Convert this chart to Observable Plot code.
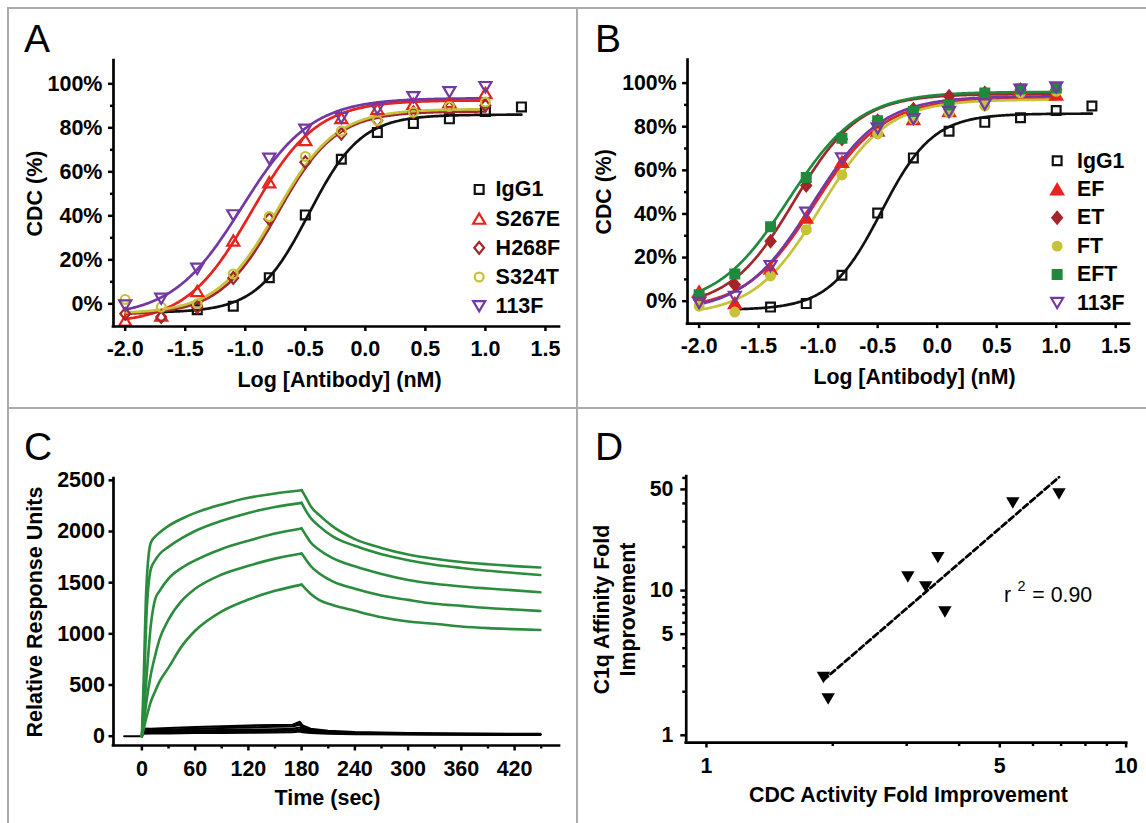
<!DOCTYPE html>
<html><head><meta charset="utf-8">
<script src="https://cdn.jsdelivr.net/npm/d3@7"></script>
<script src="https://cdn.jsdelivr.net/npm/@observablehq/plot@0.6"></script>
<style>
html,body{margin:0;padding:0;background:#fff;overflow:hidden;}
#fig{position:relative;width:1146px;height:823px;font-family:'Liberation Sans',Arial,Helvetica,sans-serif;overflow:hidden;}
.panel{position:absolute;}
.plabel{position:absolute;font-size:39px;font-weight:normal;line-height:39px;color:#000;}
.ln{position:absolute;background:#ababab;}
</style></head><body><div id="fig"></div><script>
// ---------------- Panel A / B data (CDC %, vs log [antibody] nM) ----------------
const logConc = [-2.0, -1.7, -1.4, -1.1, -0.8, -0.5, -0.2, 0.1, 0.4, 0.7, 1.0];
const igg1LogConc = [-1.4, -1.1, -0.8, -0.5, -0.2, 0.1, 0.4, 0.7, 1.0, 1.3];
const cdcIgG1 = [-2.7, -1.1, 11.9, 40.4, 65.7, 77.9, 82.0, 84.1, 87.4, 89.5];

const cdcS267E = [-7.6, -5.3, 5.8, 28.8, 55.3, 74.5, 84.5, 88.6, 90.9, 91.7, 95.8];
const cdcH268F = [-4.5, -6.0, -1.5, 11.8, 38.6, 64.4, 77.3, 83.3, 87.1, 89.4, 90.2];
const cdcS324T = [2.0, -1.5, 0.0, 13.6, 39.7, 67.0, 78.5, 83.3, 87.1, 89.7, 91.7];
const cdc113F_A = [-0.8, 2.3, 15.9, 40.2, 65.9, 79.1, 84.5, 88.6, 93.9, 96.2, 98.5];

const cdcEF = [4.5, -0.8, 15.0, 38.3, 63.9, 78.2, 83.5, 87.2, 95.5, 97.0, 94.7];
const cdcET = [0.8, 7.5, 27.5, 53.0, 74.4, 82.7, 88.0, 94.0, 95.5, 97.0, 97.0];
const cdcFT = [-2.3, -5.0, 11.6, 32.8, 57.9, 76.7, 83.5, 86.5, 89.5, 95.5, 96.2];
const cdcEFT = [3.0, 12.5, 34.1, 56.7, 74.7, 82.7, 87.0, 90.0, 95.5, 97.3, 97.7];
const cdc113F_B = [-0.8, 2.0, 16.1, 40.6, 65.4, 79.2, 83.5, 86.8, 90.2, 97.0, 98.0];

// fitted 4-parameter logistic curves, parameters read from the drawn fits
const seriesA = ["IgG1", "S267E", "H268F", "S324T", "113F"];
const fitBottomA = [-4, -9, -5, -4.5, -6];
const fitTopA = [86, 92.5, 87.5, 88.5, 93.5];
const fitLogEC50A = [-0.47, -0.95, -0.73, -0.74, -1.03];
const fitHillA = [2.0, 1.6, 1.8, 1.75, 1.5];

const seriesB = ["IgG1", "EF", "ET", "FT", "EFT", "113F"];
const fitBottomB = [-4, -4, -3, -6.5, -3, -5];
const fitTopB = [86, 93, 95, 92.5, 96, 94];
const fitLogEC50B = [-0.47, -1.03, -1.2, -0.98, -1.25, -1.05];
const fitHillB = [2.0, 1.5, 1.6, 1.55, 1.45, 1.5];

const xTicksAB = [-2.0, -1.5, -1.0, -0.5, 0.0, 0.5, 1.0, 1.5];
const yTicksAB = [0, 20, 40, 60, 80, 100];
const yMinorAB = [10, 30, 50, 70, 90];

// ---------------- Panel C data (SPR sensorgrams) ----------------
const tAssoc = [0, 2, 5, 10, 15, 20, 30, 45, 60, 90, 120, 150, 180];
const tDiss = [180, 185, 190, 200, 215, 240, 270, 300, 330, 360, 390, 420, 449];
const assoc1 = [0, 550, 1450, 1890, 1950, 1990, 2055, 2125, 2182, 2264, 2329, 2372, 2404];
const diss1 = [2404, 2330, 2250, 2160, 2050, 1926, 1840, 1775, 1733, 1702, 1680, 1662, 1648];
const assoc2 = [0, 350, 1150, 1630, 1720, 1780, 1850, 1935, 2005, 2105, 2182, 2240, 2280];
const diss2 = [2280, 2200, 2135, 2050, 1953, 1860, 1778, 1720, 1676, 1644, 1617, 1595, 1575];
const assoc3 = [0, 200, 550, 1080, 1340, 1420, 1540, 1645, 1718, 1830, 1910, 1980, 2030];
const diss3 = [2030, 1960, 1895, 1820, 1740, 1660, 1585, 1527, 1490, 1463, 1443, 1425, 1406];
const assoc4 = [0, 120, 330, 600, 790, 950, 1140, 1325, 1440, 1580, 1665, 1735, 1785];
const diss4 = [1785, 1725, 1665, 1590, 1512, 1440, 1375, 1332, 1294, 1273, 1253, 1238, 1223];
const assoc5 = [0, 70, 180, 335, 440, 535, 670, 880, 1030, 1220, 1335, 1420, 1481];
const diss5 = [1481, 1435, 1392, 1330, 1282, 1225, 1162, 1120, 1098, 1072, 1056, 1046, 1037];

const tBuffer = [0, 1, 10, 30, 60, 90, 120, 150, 170, 178, 181, 190, 210, 240, 300, 360, 449];
const buffer1 = [0, 75, 72, 80, 90, 96, 104, 108, 112, 140, 105, 72, 52, 40, 31, 26, 22];
const buffer2 = [0, 58, 60, 64, 72, 80, 86, 92, 96, 115, 85, 58, 42, 33, 26, 22, 19];
const buffer3 = [0, 46, 47, 51, 56, 60, 64, 68, 72, 85, 68, 47, 36, 29, 23, 19, 16];
const buffer4 = [0, 36, 37, 39, 43, 46, 49, 51, 54, 62, 52, 39, 31, 25, 20, 17, 14];
const buffer5 = [0, 26, 27, 28, 31, 33, 35, 37, 39, 46, 39, 31, 25, 21, 17, 14, 12];
const tBaseline = [-20, 0];
const baselineRU = [0, 0];

const xTicksC = [0, 60, 120, 180, 240, 300, 360, 420];
const xMinorC = [30, 90, 150, 210, 270, 330, 390, 450];
const yTicksC = [0, 500, 1000, 1500, 2000, 2500];

// ---------------- Panel D data ----------------
const cdcFold = [1.90, 1.95, 3.02, 3.33, 3.56, 3.70, 5.37, 6.92];
const c1qFold = [2.51, 1.78, 12.4, 10.6, 16.9, 7.11, 40.3, 46.5];
const xTicksD = [1, 5, 10];
const xMinorD = [2, 3, 4, 6, 7, 8, 9];
const yTicksD = [1, 5, 10, 50];
const yMinorD = [2, 3, 4, 6, 7, 8, 9, 20, 30, 40, 60];

// ---------------- styles ----------------
const STYLE = {
  "IgG1": {color: "#111111", shape: "square", filled: false},
  "S267E": {color: "#e8231d", shape: "triUp", filled: false},
  "H268F": {color: "#a3262a", shape: "diamond", filled: false},
  "S324T": {color: "#c6c23a", shape: "circle", filled: false},
  "113F": {color: "#7438a4", shape: "triDown", filled: false},
  "EF": {color: "#e8231d", shape: "triUp", filled: true},
  "ET": {color: "#a3262a", shape: "diamond", filled: true},
  "FT": {color: "#c6c23a", shape: "circle", filled: true},
  "EFT": {color: "#1f8a3d", shape: "square", filled: true}
};
const GREEN = "#2a8c3c";
const FONT = "'Liberation Sans', Arial, Helvetica, sans-serif";

function sym(kind) {
  return {draw(ctx, size) {
    const s = Math.sqrt(size);
    if (kind === "square") {
      const h = s * 0.5;
      ctx.moveTo(-h, -h); ctx.lineTo(h, -h); ctx.lineTo(h, h); ctx.lineTo(-h, h); ctx.closePath();
    } else if (kind === "triUp") {
      const w = s * 0.68, h = s * 0.58;
      ctx.moveTo(0, -h); ctx.lineTo(w, h); ctx.lineTo(-w, h); ctx.closePath();
    } else if (kind === "triDown") {
      const w = s * 0.68, h = s * 0.58;
      ctx.moveTo(-w, -h); ctx.lineTo(w, -h); ctx.lineTo(0, h); ctx.closePath();
    } else if (kind === "diamond") {
      const w = s * 0.55, h = s * 0.66;
      ctx.moveTo(0, -h); ctx.lineTo(w, 0); ctx.lineTo(0, h); ctx.lineTo(-w, 0); ctx.closePath();
    } else {
      const r = s * 0.5;
      ctx.moveTo(r, 0); ctx.arc(0, 0, r, 0, 2 * Math.PI);
    }
  }};
}

const baseStyle = {fontFamily: FONT, fontSize: "21px", fontWeight: "bold", color: "black", background: "transparent", overflow: "visible"};
const AX = {strokeWidth: 2.5, label: null, fontSize: 21.5, fontWeight: "bold"};
const LBL = {fontSize: 21.5, fontWeight: "bold", textAnchor: "middle", lineAnchor: "middle"};

function frameLines(xd, yd) {
  return [
    Plot.ruleX([xd[0]], {stroke: "black", strokeWidth: 2.7, strokeLinecap: "square"}),
    Plot.ruleY([yd[0]], {stroke: "black", strokeWidth: 2.7, strokeLinecap: "square"})
  ];
}

function logistic(x, b, t, ec, h) { return b + (t - b) / (1 + Math.pow(10, (ec - x) * h)); }

function dosePanel(series, valuesBy, fit, leg, labelDx) {
  const xd = [-2.0975, 1.617], yd = [-10.3, 110.6];
  const marks = [];
  series.forEach((n, i) => {
    const lo = n === "IgG1" ? -1.72 : -2.0, hi = n === "IgG1" ? 1.3 : 1.0;
    const pts = [];
    for (let x = lo; x <= hi + 1e-9; x += 0.01) pts.push({x, y: logistic(x, fit.bottom[i], fit.top[i], fit.ec[i], fit.hill[i])});
    marks.push(Plot.line(pts, {x: "x", y: "y", stroke: STYLE[n].color, strokeWidth: 2.7}));
  });
  series.forEach((n) => {
    const xs = n === "IgG1" ? igg1LogConc : logConc;
    const pts = xs.map((x, j) => ({x, y: valuesBy[n][j]}));
    const st = STYLE[n];
    marks.push(Plot.dot(pts, {x: "x", y: "y", r: 5, symbol: sym(st.shape), stroke: st.color, strokeWidth: 2.2, fill: st.filled ? st.color : "none"}));
  });
  // legend
  series.forEach((n, i) => {
    const st = STYLE[n];
    const item = [{x: leg.x, tx: leg.tx, y: leg.y0 - i * leg.step, n}];
    marks.push(Plot.dot(item, {x: "x", y: "y", r: 5, symbol: sym(st.shape), stroke: st.color, strokeWidth: 2.2, fill: st.filled ? st.color : "none"}));
    marks.push(Plot.text(item, {x: "tx", y: "y", text: "n", textAnchor: "start", fontSize: 21.5, fontWeight: "bold"}));
  });
  marks.push(
    Plot.axisX({...AX, ticks: xTicksAB, tickSize: 5, tickPadding: 9.5, tickFormat: d => d.toFixed(1)}),
    Plot.axisY({...AX, ticks: yTicksAB, tickSize: 5, tickPadding: 6, tickFormat: d => d + "%"}),
    Plot.axisY({...AX, ticks: yMinorAB, tickSize: 3, tickFormat: () => ""}),
    ...frameLines(xd, yd),
    Plot.text(["Log [Antibody] (nM)"], {...LBL, frameAnchor: "bottom", dy: 54, dx: labelDx.x}),
    Plot.text(["CDC (%)"], {...LBL, frameAnchor: "left", dx: labelDx.y, rotate: -90})
  );
  return Plot.plot({
    width: 576, height: 408, marginLeft: 113, marginRight: 17, marginTop: 60, marginBottom: 82,
    x: {domain: xd}, y: {domain: yd}, style: baseStyle, marks
  });
}

const fig = document.getElementById("fig");
function place(el, left, top) {
  const d = document.createElement("div");
  d.className = "panel"; d.style.left = left + "px"; d.style.top = top + "px";
  d.appendChild(el); fig.appendChild(d);
}

// Panel A
const valuesA = {"IgG1": cdcIgG1, "S267E": cdcS267E, "H268F": cdcH268F, "S324T": cdcS324T, "113F": cdc113F_A};
place(dosePanel(seriesA, valuesA,
  {bottom: fitBottomA, top: fitTopA, ec: fitLogEC50A, hill: fitHillA},
  {x: 0.948, tx: 1.085, y0: 52, step: 13.27}, {x: 3, y: -78.5}), 0, 0);

// Panel B
const valuesB = {"IgG1": cdcIgG1, "EF": cdcEF, "ET": cdcET, "FT": cdcFT, "EFT": cdcEFT, "113F": cdc113F_B};
place(dosePanel(seriesB, valuesB,
  {bottom: fitBottomB, top: fitTopB, ec: fitLogEC50B, hill: fitHillB},
  {x: 1.008, tx: 1.175, y0: 64.4, step: 13.05}, {x: 6, y: -84}), 575, 0);

// Panel C
{
  const xd = [-32, 470.6], yd = [-91, 2518];
  const rows = [];
  const assoc = [assoc1, assoc2, assoc3, assoc4, assoc5];
  const diss = [diss1, diss2, diss3, diss4, diss5];
  assoc.forEach((a, k) => tAssoc.forEach((t, j) => rows.push({t, v: a[j], z: "a" + k})));
  diss.forEach((a, k) => tDiss.forEach((t, j) => rows.push({t, v: a[j], z: "d" + k})));
  const brows = [];
  [buffer1, buffer2, buffer3, buffer4, buffer5].forEach((a, k) => tBuffer.forEach((t, j) => brows.push({t, v: a[j], z: "b" + k})));
  const base = tBaseline.map((t, j) => ({t, v: baselineRU[j]}));
  const plotC = Plot.plot({
    width: 576, height: 415, marginLeft: 113, marginRight: 17, marginTop: 70, marginBottom: 78,
    x: {domain: xd}, y: {domain: yd}, style: baseStyle,
    marks: [
      Plot.line(base, {x: "t", y: "v", stroke: "black", strokeWidth: 2}),
      Plot.line(brows, {x: "t", y: "v", z: "z", stroke: "black", strokeWidth: 2.2}),
      Plot.line(rows, {x: "t", y: "v", z: "z", stroke: GREEN, strokeWidth: 2.6, curve: "monotone-x"}),
      Plot.axisX({...AX, ticks: xTicksC, tickSize: 5.5, tickPadding: 10, tickFormat: d => String(d)}),
      Plot.axisX({...AX, ticks: xMinorC, tickSize: 3.5, tickFormat: () => ""}),
      Plot.axisY({...AX, ticks: yTicksC, tickSize: 4.5, tickPadding: 4, tickFormat: d => String(d)}),
      ...frameLines(xd, yd),
      Plot.text(["Time (sec)"], {...LBL, frameAnchor: "bottom", dy: 53, dx: -9}),
      Plot.text(["Relative Response Units"], {...LBL, frameAnchor: "left", dx: -78.5, rotate: -90})
    ]
  });
  place(plotC, 0, 408);
}

// Panel D
{
  const xd = [0.895, 10.03], yd = [0.891, 61.3];
  const pts = cdcFold.map((x, i) => ({x, y: c1qFold[i]}));
  // least-squares fit in log-log space
  const lx = pts.map(p => Math.log10(p.x)), ly = pts.map(p => Math.log10(p.y));
  const mx = d3.mean(lx), my = d3.mean(ly);
  const slope = d3.sum(lx, (v, i) => (v - mx) * (ly[i] - my)) / d3.sum(lx, v => (v - mx) ** 2);
  const icpt = my - slope * mx;
  const [x0, x1] = d3.extent(cdcFold);
  const reg = [x0, x1].map(x => ({x, y: Math.pow(10, icpt + slope * Math.log10(x))}));
  const rAt = [{x: 5.12, y: 9.27}];
  const plotD = Plot.plot({
    width: 576, height: 415, marginLeft: 111.7, marginRight: 20, marginTop: 68.7, marginBottom: 78,
    x: {type: "log", domain: xd}, y: {type: "log", domain: yd}, style: baseStyle,
    marks: [
      Plot.line(reg, {x: "x", y: "y", stroke: "black", strokeWidth: 2.8, strokeDasharray: "6,3.5"}),
      Plot.dot(pts, {x: "x", y: "y", r: 5.6, symbol: sym("triDown"), fill: "black", stroke: "none"}),
      Plot.text(rAt, {x: "x", y: "y", text: () => "r", textAnchor: "start", fontSize: 21.5, fontWeight: "normal"}),
      Plot.text(rAt, {x: "x", y: "y", text: () => "2", textAnchor: "start", dx: 13.5, dy: -9, fontSize: 14.5, fontWeight: "normal"}),
      Plot.text(rAt, {x: "x", y: "y", text: () => "= 0.90", textAnchor: "start", dx: 28.5, fontSize: 21.5, fontWeight: "normal"}),
      Plot.axisX({...AX, ticks: xTicksD, tickSize: 5.5, tickPadding: 10, tickFormat: d => String(d)}),
      Plot.axisX({...AX, ticks: xMinorD, tickSize: 4, tickFormat: () => ""}),
      Plot.axisY({...AX, ticks: yTicksD, tickSize: 5.5, tickPadding: 7.5, tickFormat: d => String(d)}),
      Plot.axisY({...AX, ticks: yMinorD, tickSize: 3.5, tickFormat: () => ""}),
      ...frameLines(xd, yd),
      Plot.text(["CDC Activity Fold Improvement"], {...LBL, frameAnchor: "bottom", dy: 53, dx: 2}),
      Plot.text(["C1q Affinity Fold"], {...LBL, frameAnchor: "left", dx: -84.5, rotate: -90}),
      Plot.text(["Improvement"], {...LBL, frameAnchor: "left", dx: -59, rotate: -90})
    ]
  });
  place(plotD, 575, 408);
}

// panel letters and borders
[["A", 24, 19], ["B", 595, 19], ["C", 24, 427], ["D", 595, 427]].forEach(([t, l, tp]) => {
  const d = document.createElement("div"); d.className = "plabel"; d.textContent = t;
  d.style.left = l + "px"; d.style.top = tp + "px"; fig.appendChild(d);
});
[[7, 7, 1139, 1.5], [7, 407, 1139, 1.5]].forEach(([l, t, w, h]) => {
  const d = document.createElement("div"); d.className = "ln";
  Object.assign(d.style, {left: l + "px", top: t + "px", width: w + "px", height: h + "px"}); fig.appendChild(d);
});
[[7, 7, 1.5, 816], [576, 7, 1.5, 816]].forEach(([l, t, w, h]) => {
  const d = document.createElement("div"); d.className = "ln";
  Object.assign(d.style, {left: l + "px", top: t + "px", width: w + "px", height: h + "px"}); fig.appendChild(d);
});
</script></body></html>
